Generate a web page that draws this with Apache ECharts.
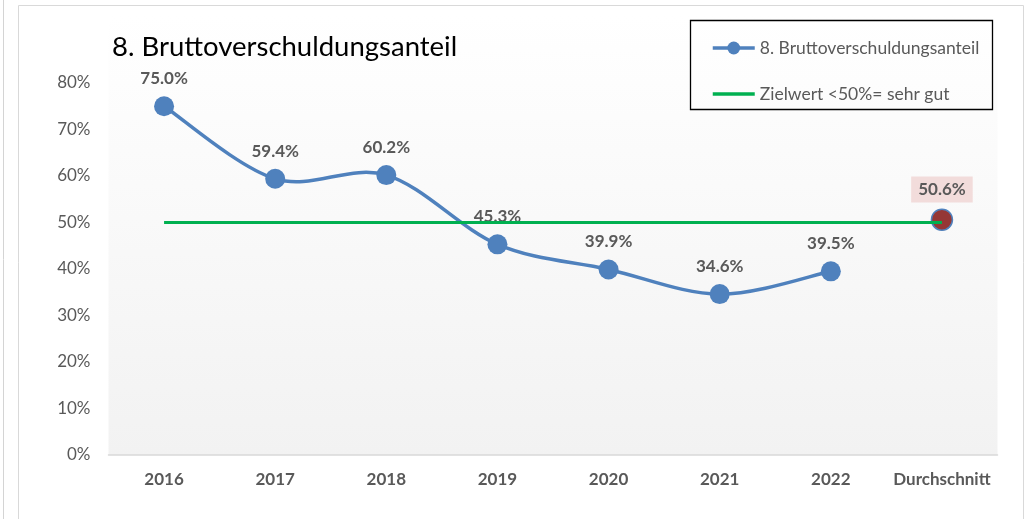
<!DOCTYPE html>
<html><head><meta charset="utf-8">
<script src="https://cdn.jsdelivr.net/npm/echarts@6/dist/echarts.min.js"></script>
<style>html,body{margin:0;padding:0;background:#fff}#c{width:1031px;height:519px}</style>
</head><body><div id="c"></div>
<script>
const categories = ['2016','2017','2018','2019','2020','2021','2022','Durchschnitt'];
const ratioValues = [75.0, 59.4, 60.2, 45.3, 39.9, 34.6, 39.5, 50.6];
const targetValues = [50, 50, 50, 50, 50, 50, 50, 50];
const yTickMin = 0, yTickMax = 80, yTickStep = 10;
const seriesNames = ['8. Bruttoverschuldungsanteil', 'Zielwert <50%= sehr gut'];
const titleText = '8. Bruttoverschuldungsanteil';

const FONT = 'Lato';
const BLUE = '#4f81bd';
const chart = echarts.init(document.getElementById('c'), null, {renderer: 'canvas'});
const lastIdx = ratioValues.length - 1;
const lineData = ratioValues.map((v, i) => i === lastIdx ? '-' : v);
const avgData = ratioValues.map((v, i) => i === lastIdx ? v : '-');
const labelStyle = {fontFamily: FONT, fontSize: 17, fontWeight: 'bold', color: '#595959'};

// Excel-like smoothed curve (Catmull-Rom Bezier) drawn through the axis scales
function renderCurve(params, api) {
  const pts = [];
  lineData.forEach((v, i) => { if (v !== '-') pts.push(api.coord([i, v])); });
  const t = 1 / 6;
  const children = [];
  for (let i = 0; i < pts.length - 1; i++) {
    const p0 = pts[i - 1] || pts[i], p1 = pts[i], p2 = pts[i + 1], p3 = pts[i + 2] || pts[i + 1];
    children.push({
      type: 'bezierCurve',
      shape: {
        x1: p1[0], y1: p1[1], x2: p2[0], y2: p2[1],
        cpx1: p1[0] + (p2[0] - p0[0]) * t, cpy1: p1[1] + (p2[1] - p0[1]) * t,
        cpx2: p2[0] - (p3[0] - p1[0]) * t, cpy2: p2[1] - (p3[1] - p1[1]) * t
      },
      style: {stroke: BLUE, lineWidth: 3.5, fill: null, lineCap: 'round'}
    });
  }
  return {type: 'group', children: children};
}

chart.setOption({
  animation: false,
  textStyle: {fontFamily: FONT},
  title: {
    text: titleText, left: 107, top: 28,
    textStyle: {fontFamily: FONT, fontSize: 27.5, fontWeight: 'normal', color: '#000'}
  },
  legend: {
    orient: 'vertical', left: 706, top: 34,
    itemWidth: 42, itemHeight: 16, itemGap: 28,
    lineStyle: {width: 3.5, opacity: 1},
    textStyle: {fontFamily: FONT, fontSize: 17.5, color: '#595959'},
    data: [seriesNames[0], {name: seriesNames[1], itemStyle: {opacity: 0}}]
  },
  graphic: [
    {type: 'rect', z: -10, silent: true, shape: {x: 108.5, y: 15, width: 889, height: 440},
     style: {fill: new echarts.graphic.LinearGradient(0, 0, 0, 1, [{offset: 0, color: '#ffffff'}, {offset: 1, color: '#f2f2f2'}])}},
    {type: 'line', silent: true, shape: {x1: 3.5, y1: 0, x2: 3.5, y2: 519}, style: {stroke: '#d4d4d4', lineWidth: 1}},
    {type: 'line', silent: true, shape: {x1: 18.5, y1: 5.5, x2: 18.5, y2: 519}, style: {stroke: '#d9d9d9', lineWidth: 1}},
    {type: 'line', silent: true, shape: {x1: 18.5, y1: 5.5, x2: 1023.5, y2: 5.5}, style: {stroke: '#d9d9d9', lineWidth: 1}},
    {type: 'line', silent: true, shape: {x1: 1023.5, y1: 5.5, x2: 1023.5, y2: 519}, style: {stroke: '#d9d9d9', lineWidth: 1}},
    {type: 'rect', silent: true, shape: {x: 690.5, y: 20.5, width: 302, height: 89},
     style: {fill: 'none', stroke: '#000', lineWidth: 1.3}}
  ],
  grid: {left: 108.5, right: 33.5, top: 83, bottom: 64, containLabel: false},
  xAxis: {
    type: 'category', data: categories, boundaryGap: true,
    axisLine: {lineStyle: {color: '#d9d9d9', width: 1.5}},
    axisTick: {show: false},
    axisLabel: {interval: 0, fontFamily: FONT, fontWeight: 'bold', fontSize: 17, color: '#595959', margin: 16}
  },
  yAxis: {
    type: 'value', min: yTickMin, max: yTickMax, interval: yTickStep,
    axisLine: {show: false}, axisTick: {show: false}, splitLine: {show: false},
    axisLabel: {fontFamily: FONT, fontSize: 17, color: '#595959', margin: 18, formatter: v => v + '%'}
  },
  series: [
    {
      name: 'curve', type: 'custom', renderItem: renderCurve, data: [[0, 0]], z: 1, silent: true,
      encode: {x: 0, y: 1}
    },
    {
      name: seriesNames[0], type: 'line', data: lineData, connectNulls: false,
      symbol: 'circle', symbolSize: 20, z: 2,
      itemStyle: {color: BLUE},
      lineStyle: {color: BLUE, width: 3.5, opacity: 0},
      label: Object.assign({show: true, position: 'top', distance: 9,
        formatter: p => p.value.toFixed(1) + '%'}, labelStyle)
    },
    {
      name: 'avg', type: 'scatter', data: avgData, symbol: 'circle', symbolSize: 21, z: 2,
      itemStyle: {color: '#953735', borderColor: BLUE, borderWidth: 1.5, opacity: 1},
      label: Object.assign({show: true, position: 'top', distance: 6, backgroundColor: '#f2dcdb', padding: [5, 7, 4, 7],
        opacity: 1, formatter: p => p.value.toFixed(1) + '%'}, labelStyle)
    },
    {
      name: seriesNames[1], type: 'line', data: targetValues, symbol: 'none', z: 3, silent: true,
      lineStyle: {color: '#00b050', width: 3}, itemStyle: {color: '#00b050'}
    }
  ]
});
</script></body></html>
